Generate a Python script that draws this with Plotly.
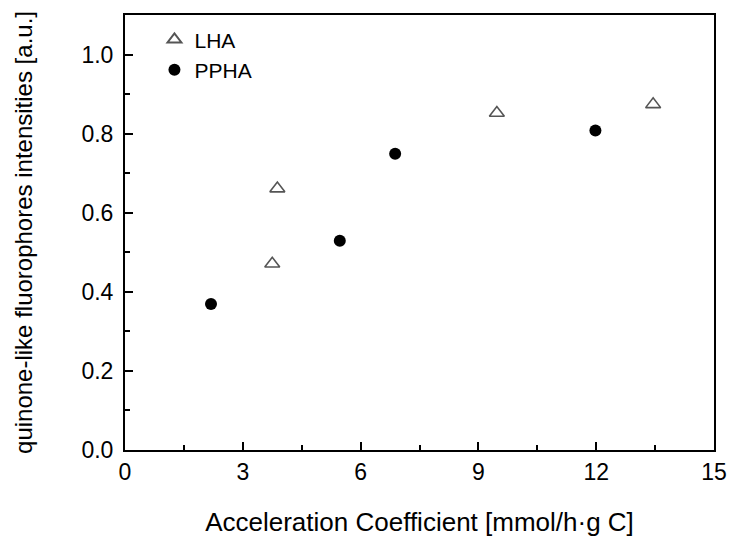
import plotly.graph_objects as go

lha_x = [3.75, 3.88, 9.47, 13.45]
lha_y = [0.471, 0.661, 0.852, 0.874]
ppha_x = [2.19, 5.47, 6.88, 11.98]
ppha_y = [0.369, 0.529, 0.749, 0.808]

x_ticks = [0, 3, 6, 9, 12, 15]
y_ticks = [0.0, 0.2, 0.4, 0.6, 0.8, 1.0]
y_tick_labels = ["0.0", "0.2", "0.4", "0.6", "0.8", "1.0"]

FONT = "Liberation Sans, Arial, sans-serif"

fig = go.Figure()
fig.add_trace(go.Scatter(
    x=lha_x, y=lha_y, mode="markers", name="LHA",
    marker=dict(symbol="triangle-up-open", size=13, color="#555555",
                line=dict(width=1.6, color="#555555")),
))
fig.add_trace(go.Scatter(
    x=ppha_x, y=ppha_y, mode="markers", name="PPHA",
    marker=dict(symbol="circle", size=12, color="black"),
))

axis_common = dict(
    showline=True, linecolor="black", linewidth=2, mirror=True,
    ticks="inside", ticklen=8, tickwidth=1.5, tickcolor="black",
    showgrid=False, zeroline=False, automargin=False,
    tickfont=dict(family=FONT, size=23, color="black"),
)

fig.update_xaxes(
    range=[0, 15], tickvals=x_ticks,
    minor=dict(ticks="inside", ticklen=5, tickwidth=1.5, tickcolor="black", dtick=1.5),
    title=dict(text="Acceleration Coefficient [mmol/h·g C]",
               font=dict(family=FONT, size=26, color="black"),
               standoff=30),
    **axis_common,
)
fig.update_yaxes(
    range=[0, 1.1], tickvals=y_ticks, ticktext=y_tick_labels,
    ticklabelstandoff=5,
    minor=dict(ticks="inside", ticklen=5, tickwidth=1.5, tickcolor="black", dtick=0.1),
    title=dict(text="quinone-like fluorophores intensities [a.u.]",
               font=dict(family=FONT, size=24, color="black"),
               standoff=42),
    **axis_common,
)

fig.update_layout(
    width=729, height=537,
    margin=dict(l=125, r=15, t=15, b=87),
    plot_bgcolor="white", paper_bgcolor="white",
    showlegend=True,
    legend=dict(x=0.05, y=0.99, xanchor="left", yanchor="top",
                bgcolor="rgba(0,0,0,0)",
                font=dict(family=FONT, size=21, color="black"),
                itemsizing="constant", tracegroupgap=0),
)

fig.write_html("out.html")
